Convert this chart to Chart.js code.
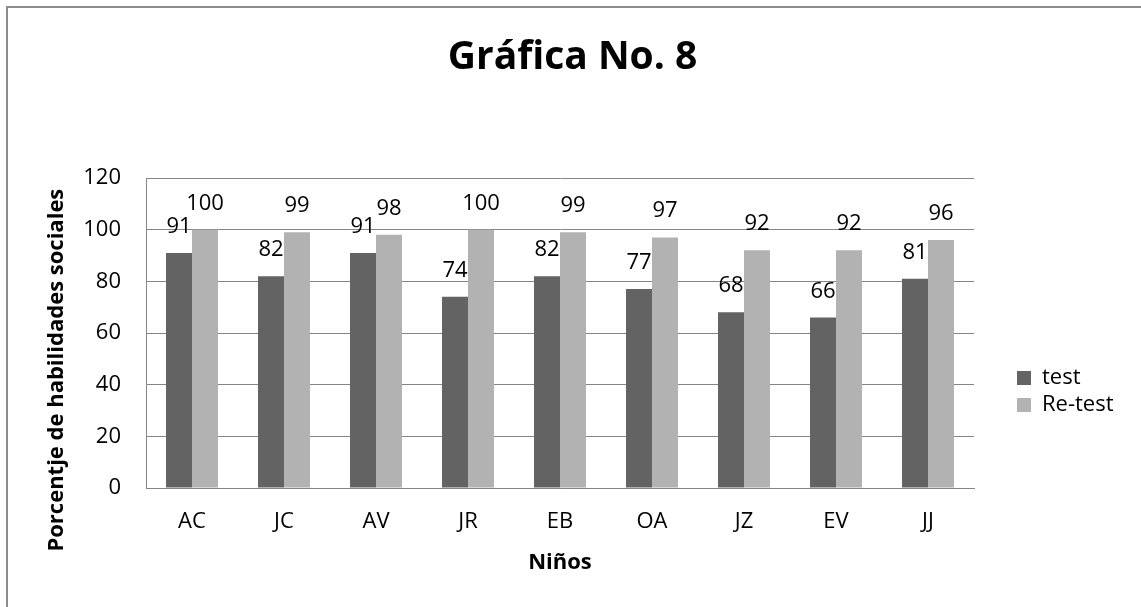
<!DOCTYPE html>
<html><head><meta charset="utf-8">
<script src="https://cdn.jsdelivr.net/npm/chart.js@4"></script>
<style>
html,body{margin:0;padding:0;background:#fff;overflow:hidden;width:1141px;height:607px;}
#frame{position:absolute;left:6px;top:6px;width:1300px;height:800px;border:2px solid #8c8c8c;box-sizing:border-box;}
canvas{position:absolute;left:0;top:0;}
</style></head><body>
<div id="frame"></div>
<canvas id="c" width="1141" height="607"></canvas>
<script>
// ---- data ----
const categories = ['AC','JC','AV','JR','EB','OA','JZ','EV','JJ'];
const testValues = [91,82,91,74,82,77,68,66,81];
const retestValues = [100,99,98,100,99,97,92,92,96];
const seriesNames = ['test','Re-test'];
const yTicks = [0,20,40,60,80,100,120];
const chartTitle = 'Gráfica No. 8';
const xTitle = 'Niños';
const yTitle = 'Porcentje de habilidades sociales';

// ---- layout / style ----
const W = 1141, H = 607;
const PLOT = {l:146, r:974, t:178, b:488};
const FONT = '"Open Sans", sans-serif';
const FS = 22;
const LEG_PAD = 5, BOX = 14;
const mctx = document.createElement('canvas').getContext('2d');
mctx.font = FS + 'px ' + FONT;
const textW = Math.max(...seriesNames.map(s => mctx.measureText(s).width));
const legendW = LEG_PAD + BOX + FS/2 + textW + 10;
const DUMMY_W = 1017 - LEG_PAD - PLOT.r;
const padR = W - PLOT.r - DUMMY_W - legendW;
const padL = padR + 4;
const Y_AXIS_W = PLOT.l - padL;
const X_AXIS_H = H - PLOT.b;
const GRID = '#868686';

Chart.defaults.color = '#000';
Chart.defaults.font.family = FONT;

const valueLabels = {
  id: 'valueLabels',
  afterDatasetsDraw(chart) {
    const ctx = chart.ctx;
    ctx.save();
    ctx.font = FS + 'px ' + FONT;
    ctx.fillStyle = '#000';
    ctx.textAlign = 'center';
    ctx.textBaseline = 'alphabetic';
    chart.data.datasets.forEach((ds, i) => {
      chart.getDatasetMeta(i).data.forEach((bar, j) => {
        ctx.fillText(String(ds.data[j]), bar.x, bar.y - 20);
      });
    });
    ctx.restore();
  }
};

new Chart(document.getElementById('c'), {
  type: 'bar',
  data: {
    labels: categories,
    datasets: [
      {label: seriesNames[0], data: testValues, backgroundColor: '#636363', categoryPercentage: 0.565, barPercentage: 1.0},
      {label: seriesNames[1], data: retestValues, backgroundColor: '#b2b2b2', categoryPercentage: 0.565, barPercentage: 1.0}
    ]
  },
  options: {
    responsive: false,
    animation: false,
    layout: {padding: {left: padL, right: padR, top: 0, bottom: 0}},
    plugins: {
      title: {display: true, text: chartTitle, color: '#000',
        font: {size: 39, weight: 'bold', family: FONT},
        padding: {top: 34.6, bottom: 96.6}},
      legend: {
        position: 'right', align: 'center',
        title: {display: true, text: ' ', font: {size: 10}, padding: {top: 164, bottom: 0}},
        labels: {boxWidth: BOX, boxHeight: BOX, padding: LEG_PAD, color: '#000',
          font: {size: FS, family: FONT}}
      },
      tooltip: {enabled: false}
    },
    scales: {
      x: {
        grid: {display: false, drawTicks: false},
        border: {display: true, color: GRID, width: 1},
        ticks: {padding: 20.6, font: {size: FS}, color: '#000'},
        title: {display: true, text: xTitle, color: '#000',
          font: {size: FS, weight: 'bold'}, padding: {top: 0, bottom: 31.5}},
        afterFit: s => { s.height = X_AXIS_H; }
      },
      y: {
        min: 0, max: 120,
        grid: {color: GRID, drawTicks: false, lineWidth: 1},
        border: {display: true, color: GRID, width: 1},
        ticks: {padding: 25, font: {size: FS}, color: '#000'},
        afterBuildTicks: s => { s.ticks = yTicks.map(v => ({value: v})); },
        title: {display: true, text: yTitle + '             ', color: '#000',
          font: {size: FS, weight: 'bold'}, padding: {top: 56.5 - padL - 13.2, bottom: 0}},
        afterFit: s => { s.width = Y_AXIS_W; }
      },
      yR: {
        type: 'linear', position: 'right', display: true,
        grid: {display: false, drawTicks: false},
        border: {display: false},
        ticks: {display: false},
        afterFit: s => { s.width = DUMMY_W; }
      }
    }
  },
  plugins: [valueLabels]
});
</script>
</body></html>
